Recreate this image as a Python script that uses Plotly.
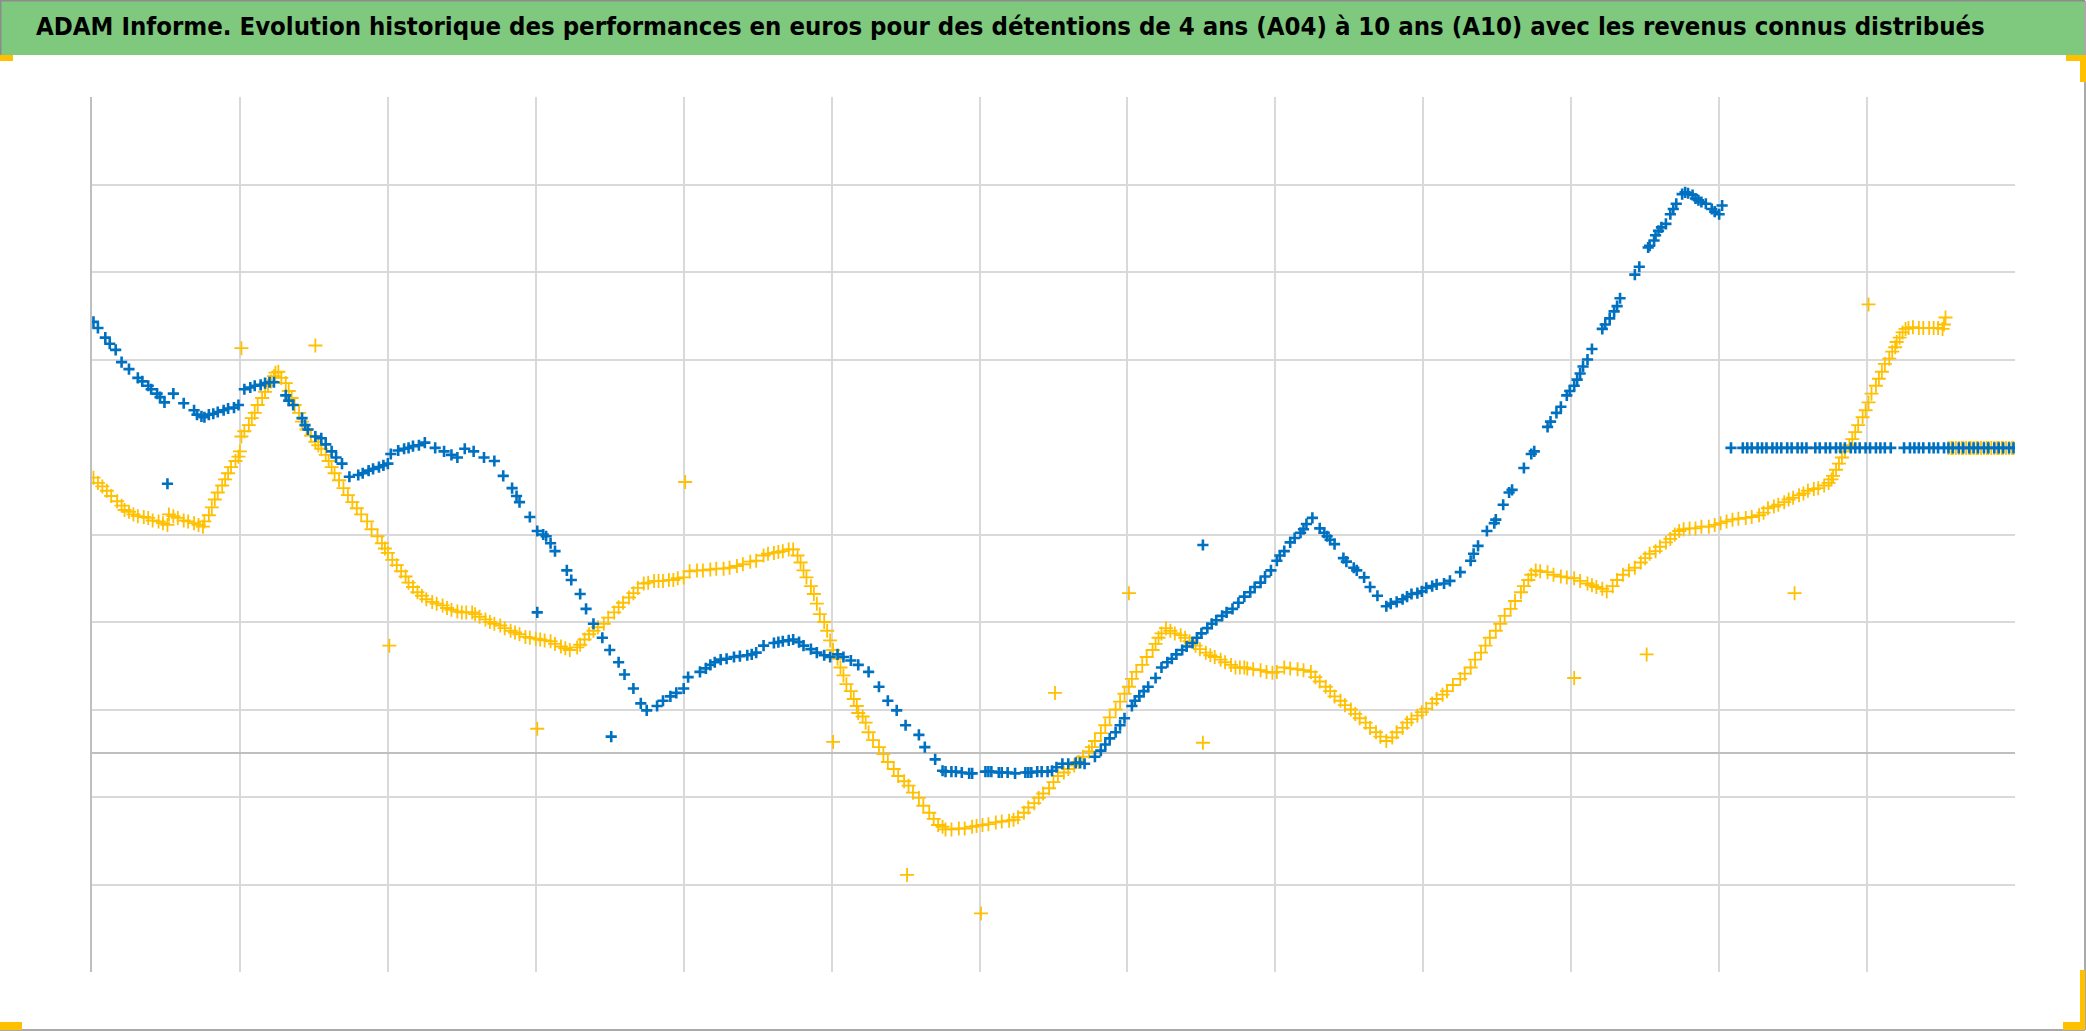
import plotly.graph_objects as go

# ---------------- data (x in years from start, y in hundreds of euros) ----------------
blue_x = [0.01, 0.09, 0.16, 0.20, 0.25, 0.31, 0.38, 0.44, 0.49, 0.55, 0.62, 0.69, 0.74, 0.79, 0.85, 0.92, 0.99,
          1.03, 1.10, 1.17, 1.23, 1.31, 1.36, 1.42, 1.46, 1.51, 1.55, 1.62, 1.69, 1.74, 1.80, 1.87, 1.94, 2.00,
          2.02, 2.07, 2.14, 2.21, 2.25, 2.32, 2.38, 2.43, 2.47, 2.52, 2.58, 2.65, 2.72, 2.78, 2.84, 2.89, 2.96,
          3.01, 3.07, 3.13, 3.21, 3.24, 3.30, 3.34, 3.39, 3.45, 3.50, 3.56, 3.60, 3.66, 3.71, 3.75, 3.82, 3.91,
          4.00, 4.03, 4.11, 4.18, 4.25, 4.34, 4.43, 4.49, 4.54, 4.61, 4.67, 4.74, 4.81, 4.90, 4.99, 5.04, 5.13,
          5.18, 5.25, 5.32, 5.38, 5.44, 5.50, 5.59, 5.63, 5.70, 5.75, 5.81, 5.88, 5.95, 6.06, 6.15, 6.24, 6.33,
          6.42, 6.49, 6.56, 6.65, 6.71, 6.78, 6.85, 6.92, 6.98, 7.03, 7.08, 7.14, 7.19, 7.23, 7.30, 7.37, 7.44,
          7.50, 7.57, 7.64, 7.71, 7.79, 7.83, 7.90, 7.97, 8.01, 8.06, 8.10, 8.17, 8.21, 8.25, 8.30, 8.35, 8.40,
          8.46, 8.53, 8.60, 8.64, 8.69, 8.75, 8.82, 8.89, 8.96, 9.02, 9.09, 9.18, 9.25, 9.32, 9.37, 9.43, 9.49,
          9.54, 9.60, 9.68, 9.75, 9.84, 9.90, 9.97, 10.02, 10.06, 10.11, 10.14, 10.21, 10.26, 10.33, 10.43,
          10.46, 10.52, 10.56, 10.59, 10.64, 10.67, 10.71, 10.75, 10.77, 10.82, 10.86, 10.91, 10.95, 11.00,
          11.02]
blue_y = [4.93, 4.75, 4.61, 4.47, 4.39, 4.29, 4.20, 4.11, 4.01, 4.11, 4.00, 3.92, 3.85, 3.87, 3.90, 3.94, 3.98,
          4.16, 4.20, 4.23, 4.24, 4.09, 3.98, 3.83, 3.70, 3.62, 3.60, 3.45, 3.31, 3.16, 3.18, 3.23, 3.27, 3.31,
          3.42, 3.46, 3.49, 3.52, 3.55, 3.49, 3.45, 3.41, 3.38, 3.48, 3.45, 3.38, 3.34, 3.17, 3.03, 2.87, 2.70,
          2.54, 2.48, 2.31, 2.09, 1.98, 1.82, 1.65, 1.48, 1.32, 1.18, 1.04, 0.90, 0.74, 0.57, 0.49, 0.54, 0.65,
          0.74, 0.87, 0.93, 1.01, 1.07, 1.10, 1.12, 1.15, 1.23, 1.26, 1.28, 1.30, 1.23, 1.15, 1.10, 1.13, 1.06,
          1.01, 0.93, 0.76, 0.60, 0.49, 0.32, 0.21, 0.07, -0.07, -0.20, -0.21, -0.22, -0.23, -0.21, -0.22, -0.23,
          -0.22, -0.21, -0.20, -0.12, -0.11, -0.12, -0.04, 0.10, 0.24, 0.40, 0.54, 0.65, 0.76, 0.86, 0.98, 1.08,
          1.18, 1.26, 1.37, 1.48, 1.57, 1.65, 1.79, 1.84, 1.95, 2.09, 2.20, 2.31, 2.41, 2.52, 2.62, 2.69, 2.57,
          2.48, 2.39, 2.23, 2.12, 2.01, 1.90, 1.80, 1.68, 1.73, 1.79, 1.83, 1.89, 1.93, 1.97, 2.07, 2.20, 2.37,
          2.54, 2.67, 2.84, 3.01, 3.26, 3.45, 3.73, 3.89, 4.09, 4.20, 4.34, 4.50, 4.62, 4.85, 4.97, 5.20, 5.47,
          5.56, 5.78, 5.86, 5.97, 6.05, 6.16, 6.28, 6.39, 6.41, 6.38, 6.32, 6.28, 6.22, 6.16, 6.26]
blue_x2 = [0.04, 0.12, 0.34, 0.40, 0.46, 0.71, 0.76, 0.82, 0.89, 0.96, 1.07, 1.14, 1.20, 1.33, 1.44, 1.58, 1.65,
           1.83, 1.90, 1.97, 2.11, 2.17, 2.87, 3.05, 3.10, 3.86, 3.95, 4.15, 4.21, 4.29, 4.38, 4.46, 4.64, 4.71,
           4.78, 4.86, 4.95, 5.08, 5.77, 5.84, 5.93, 6.04, 6.08, 6.13, 6.19, 6.31, 6.35, 6.39, 6.46, 6.52, 6.60,
           6.68, 6.82, 6.88, 6.95, 7.05, 7.11, 7.27, 7.33, 7.40, 7.47, 7.54, 7.60, 7.67, 7.75, 7.86, 7.93, 8.03,
           8.13, 8.19, 8.33, 8.37, 8.48, 8.55, 8.78, 8.86, 8.92, 8.99, 9.06, 9.14, 9.34, 9.48, 9.58, 9.73, 9.86,
           9.93, 9.99, 10.04, 10.08, 10.23, 10.29, 10.31, 10.53, 10.57, 10.61, 10.69, 10.79, 10.84, 10.88, 10.97]
blue_y2 = [4.86, 4.68, 4.25, 4.16, 4.07, 3.87, 3.84, 3.88, 3.92, 3.95, 4.18, 4.21, 4.24, 4.03, 3.75, 3.53, 3.38,
           3.20, 3.25, 3.29, 3.48, 3.51, 2.94, 2.50, 2.40, 0.60, 0.69, 0.97, 1.04, 1.08, 1.11, 1.13, 1.27, 1.29,
           1.27, 1.19, 1.12, 1.10, -0.21, -0.21, -0.23, -0.21, -0.21, -0.22, -0.22, -0.22, -0.22, -0.21, -0.21,
           -0.16, -0.12, -0.11, 0.03, 0.17, 0.32, 0.60, 0.71, 1.04, 1.13, 1.22, 1.32, 1.43, 1.52, 1.61, 1.72, 1.90,
           2.02, 2.26, 2.46, 2.56, 2.52, 2.44, 2.19, 2.09, 1.71, 1.76, 1.82, 1.85, 1.91, 1.94, 2.28, 2.63, 2.98,
           3.42, 3.79, 3.96, 4.14, 4.27, 4.42, 4.90, 5.05, 5.11, 5.80, 5.92, 6.01, 6.22, 6.40, 6.34, 6.30, 6.19]
blue_out_x = [0.51, 3.01, 3.51, 7.51]
blue_out_y = [3.08, 1.61, 0.19, 2.38]
blue_flat_x = [11.08, 11.16, 11.19, 11.22, 11.26, 11.29, 11.32, 11.36, 11.39, 11.42, 11.46, 11.49, 11.53,
               11.56, 11.59, 11.65, 11.68, 11.72, 11.75, 11.79, 11.82, 11.85, 11.89, 11.92, 11.95, 11.99,
               12.02, 12.06, 12.09, 12.12, 12.16, 12.25, 12.29, 12.32, 12.35, 12.38, 12.42, 12.45, 12.48,
               12.52, 12.55, 12.58, 12.62, 12.65, 12.69, 12.72, 12.75, 12.79, 12.82, 12.86, 12.89, 12.92,
               12.96, 12.99]
blue_flat_y = [3.49] * len(blue_flat_x)

gold_x = [0.01, 0.07, 0.13, 0.20, 0.25, 0.31, 0.38, 0.45, 0.51, 0.52, 0.58, 0.65, 0.72, 0.75, 0.79, 0.83, 0.88,
          0.92, 0.97, 1.00, 1.01, 1.06, 1.10, 1.15, 1.19, 1.23, 1.26, 1.31, 1.35, 1.40, 1.45, 1.51, 1.55, 1.60,
          1.64, 1.70, 1.76, 1.82, 1.89, 1.96, 2.00, 2.06, 2.12, 2.17, 2.23, 2.30, 2.37, 2.43, 2.50, 2.57, 2.62,
          2.69, 2.76, 2.83, 2.89, 2.96, 3.03, 3.10, 3.17, 3.23, 3.28, 3.33, 3.39, 3.46, 3.53, 3.59, 3.66, 3.73,
          3.80, 3.86, 3.93, 4.00, 4.04, 4.13, 4.22, 4.31, 4.40, 4.49, 4.54, 4.61, 4.67, 4.74, 4.79, 4.83, 4.88,
          4.92, 4.97, 5.01, 5.06, 5.10, 5.15, 5.18, 5.21, 5.25, 5.32, 5.38, 5.45, 5.52, 5.59, 5.66, 5.72, 5.77,
          5.86, 5.95, 6.02, 6.11, 6.20, 6.26, 6.33, 6.40, 6.47, 6.53, 6.60, 6.67, 6.74, 6.78, 6.85, 6.92, 6.98,
          7.03, 7.10, 7.17, 7.21, 7.26, 7.32, 7.39, 7.46, 7.53, 7.59, 7.66, 7.73, 7.79, 7.85, 7.94, 8.01, 8.06,
          8.15, 8.24, 8.30, 8.37, 8.44, 8.51, 8.57, 8.64, 8.71, 8.75, 8.82, 8.89, 8.96, 9.02, 9.09, 9.16, 9.25,
          9.32, 9.39, 9.45, 9.52, 9.59, 9.66, 9.71, 9.76, 9.84, 9.93, 10.02, 10.11, 10.17, 10.24, 10.31, 10.39,
          10.43, 10.50, 10.57, 10.64, 10.70, 10.76, 10.84, 10.93, 11.01, 11.09, 11.18, 11.27, 11.33, 11.40,
          11.47, 11.54, 11.60, 11.67, 11.74, 11.77, 11.81, 11.85, 11.90, 11.94, 11.99, 12.03, 12.08, 12.12,
          12.17, 12.20, 12.24, 12.28, 12.35, 12.42, 12.48, 12.52, 12.53]
gold_y = [3.15, 3.05, 2.94, 2.83, 2.76, 2.71, 2.69, 2.65, 2.61, 2.73, 2.69, 2.65, 2.61, 2.59, 2.72, 2.90, 3.06,
          3.20, 3.34, 3.45, 3.62, 3.75, 3.89, 4.06, 4.20, 4.31, 4.36, 4.23, 4.06, 3.89, 3.70, 3.56, 3.48, 3.34,
          3.20, 3.03, 2.87, 2.73, 2.56, 2.40, 2.29, 2.15, 2.02, 1.90, 1.80, 1.73, 1.69, 1.64, 1.61, 1.61, 1.56,
          1.50, 1.46, 1.40, 1.36, 1.32, 1.30, 1.28, 1.22, 1.18, 1.21, 1.30, 1.40, 1.48, 1.61, 1.72, 1.83, 1.94,
          1.97, 1.97, 1.98, 2.01, 2.08, 2.09, 2.11, 2.12, 2.16, 2.20, 2.26, 2.29, 2.31, 2.33, 2.18, 2.01, 1.82,
          1.59, 1.40, 1.18, 0.98, 0.79, 0.62, 0.46, 0.42, 0.24, 0.07, -0.10, -0.26, -0.37, -0.51, -0.68, -0.82,
          -0.87, -0.86, -0.84, -0.82, -0.79, -0.77, -0.73, -0.62, -0.51, -0.40, -0.26, -0.18, -0.10, 0.02, 0.14,
          0.32, 0.50, 0.68, 0.85, 1.01, 1.18, 1.32, 1.43, 1.37, 1.32, 1.23, 1.15, 1.10, 1.04, 0.98, 0.98, 0.96,
          0.93, 0.93, 0.98, 0.96, 0.93, 0.82, 0.71, 0.60, 0.50, 0.40, 0.29, 0.19, 0.14, 0.24, 0.35, 0.43, 0.51,
          0.62, 0.71, 0.85, 0.98, 1.15, 1.32, 1.48, 1.65, 1.84, 1.98, 2.09, 2.07, 2.02, 2.00, 1.94, 1.90, 1.85,
          1.98, 2.09, 2.12, 2.23, 2.31, 2.41, 2.50, 2.56, 2.57, 2.59, 2.63, 2.67, 2.69, 2.72, 2.80, 2.84, 2.90,
          2.95, 3.00, 3.03, 3.09, 3.17, 3.31, 3.45, 3.59, 3.75, 3.92, 4.11, 4.28, 4.45, 4.59, 4.70, 4.81, 4.86,
          4.86, 4.86, 4.86, 4.90, 4.98]
gold_x2 = [0.04, 0.10, 0.17, 0.22, 0.28, 0.35, 0.41, 0.48, 0.55, 0.62, 0.69, 0.76, 0.81, 0.85, 0.90, 0.94, 0.99,
           1.03, 1.08, 1.12, 1.17, 1.21, 1.24, 1.28, 1.33, 1.37, 1.42, 1.48, 1.53, 1.58, 1.62, 1.67, 1.73, 1.79,
           1.86, 1.93, 1.98, 2.03, 2.09, 2.14, 2.20, 2.26, 2.33, 2.40, 2.47, 2.53, 2.59, 2.66, 2.72, 2.79, 2.86,
           2.93, 3.00, 3.06, 3.13, 3.20, 3.30, 3.36, 3.42, 3.49, 3.56, 3.63, 3.69, 3.76, 3.83, 3.90, 3.96, 4.09,
           4.18, 4.27, 4.36, 4.45, 4.57, 4.64, 4.71, 4.77, 4.81, 4.86, 4.90, 4.95, 4.99, 5.04, 5.08, 5.13, 5.17,
           5.23, 5.28, 5.35, 5.42, 5.49, 5.55, 5.62, 5.69, 5.75, 5.81, 5.90, 5.98, 6.06, 6.15, 6.23, 6.30, 6.37,
           6.43, 6.50, 6.57, 6.64, 6.70, 6.76, 6.82, 6.88, 6.95, 7.01, 7.06, 7.13, 7.19, 7.23, 7.29, 7.36, 7.42,
           7.49, 7.56, 7.63, 7.70, 7.76, 7.81, 7.90, 7.98, 8.10, 8.19, 8.27, 8.34, 8.40, 8.47, 8.54, 8.61, 8.68,
           8.79, 8.86, 8.92, 8.99, 9.06, 9.13, 9.20, 9.28, 9.35, 9.42, 9.49, 9.55, 9.62, 9.68, 9.73, 9.79, 9.88,
           9.97, 10.06, 10.14, 10.21, 10.28, 10.35, 10.47, 10.53, 10.60, 10.67, 10.73, 10.80, 10.88, 10.97, 11.05,
           11.13, 11.22, 11.30, 11.37, 11.44, 11.50, 11.57, 11.64, 11.71, 11.76, 11.79, 11.83, 11.88, 11.92,
           11.97, 12.01, 12.06, 12.10, 12.15, 12.19, 12.22, 12.26, 12.31, 12.38, 12.45, 12.51]
gold_y2 = [3.09, 3.00, 2.88, 2.78, 2.73, 2.70, 2.66, 2.63, 2.71, 2.66, 2.63, 2.65, 2.81, 2.98, 3.13, 3.27, 3.39,
           3.68, 3.83, 3.98, 4.13, 4.25, 4.35, 4.29, 4.14, 3.98, 3.79, 3.63, 3.52, 3.41, 3.27, 3.12, 2.95, 2.80,
           2.65, 2.48, 2.34, 2.21, 2.08, 1.95, 1.84, 1.76, 1.71, 1.66, 1.62, 1.61, 1.59, 1.53, 1.48, 1.43, 1.38,
           1.33, 1.31, 1.29, 1.25, 1.20, 1.24, 1.36, 1.44, 1.55, 1.67, 1.78, 1.89, 1.95, 1.97, 1.98, 2.00, 2.09,
           2.10, 2.11, 2.14, 2.19, 2.28, 2.30, 2.33, 2.26, 2.09, 1.91, 1.71, 1.50, 1.29, 1.08, 0.89, 0.71, 0.54,
           0.35, 0.15, -0.01, -0.18, -0.32, -0.45, -0.60, -0.75, -0.84, -0.87, -0.86, -0.83, -0.81, -0.78, -0.76,
           -0.68, -0.57, -0.46, -0.33, -0.22, -0.14, -0.04, 0.07, 0.23, 0.41, 0.59, 0.76, 0.93, 1.10, 1.25, 1.37,
           1.40, 1.35, 1.28, 1.19, 1.12, 1.07, 1.01, 0.98, 0.97, 0.95, 0.92, 0.97, 0.95, 0.87, 0.76, 0.65, 0.55,
           0.45, 0.35, 0.24, 0.18, 0.29, 0.39, 0.47, 0.57, 0.67, 0.78, 0.91, 1.07, 1.23, 1.40, 1.57, 1.74, 1.91,
           2.04, 2.08, 2.04, 2.01, 1.97, 1.92, 1.88, 1.91, 2.04, 2.18, 2.28, 2.36, 2.45, 2.54, 2.57, 2.59, 2.61,
           2.65, 2.68, 2.70, 2.75, 2.82, 2.87, 2.92, 2.97, 3.02, 3.06, 3.13, 3.24, 3.38, 3.52, 3.67, 3.84, 4.01,
           4.20, 4.36, 4.51, 4.64, 4.75, 4.85, 4.87, 4.86, 4.86, 4.85]
gold_out_x = [1.01, 1.51, 2.01, 4.01, 3.01, 5.01, 5.51, 6.01, 6.51, 7.01, 7.51, 10.02, 10.51, 11.51, 12.01]
gold_out_y = [4.63, 4.66, 1.23, 3.10, 0.28, 0.13, -1.39, -1.83, 0.69, 1.83, 0.12, 0.86, 1.13, 1.83, 5.13]
gold_flat_x = [12.55, 12.57, 12.58, 12.60, 12.62, 12.64, 12.65, 12.67, 12.69, 12.70, 12.72, 12.74, 12.75, 12.77,
               12.79, 12.81, 12.82, 12.84, 12.86, 12.88, 12.89, 12.91, 12.92, 12.94, 12.96, 12.98, 12.99]
gold_flat_y = [3.49] * len(gold_flat_x)

x_grid = list(range(0, 14))
y_grid = [-2.5, -1.5, -0.5, 0.5, 1.5, 2.5, 4.5, 5.5, 6.5, 7.5]

TITLE = ("ADAM Informe. Evolution historique des performances en euros pour des détentions "
         "de 4 ans (A04) à 10 ans (A10) avec les revenus connus distribués")

BLUE = "#0070C0"
GOLD = "#FFC000"

# ---------------- figure ----------------
W, H = 2086, 1031
L, R, T, B = 92, 2015, 97, 972


def pxx(p):
    return (p - L) / (R - L)


def pyy(p):
    return (B - p) / (B - T)


fig = go.Figure()

gold_all_x = gold_x + gold_x2 + gold_out_x + gold_flat_x
gold_all_y = gold_y + gold_y2 + gold_out_y + gold_flat_y
fig.add_trace(go.Scatter(
    x=gold_all_x, y=gold_all_y, mode="markers", name="A10",
    marker=dict(symbol="cross-thin", size=10, color=GOLD, line=dict(color=GOLD, width=1.8)),
))
blue_all_x = blue_x + blue_x2 + blue_out_x + blue_flat_x
blue_all_y = blue_y + blue_y2 + blue_out_y + blue_flat_y
fig.add_trace(go.Scatter(
    x=blue_all_x, y=blue_all_y, mode="markers", name="A04",
    marker=dict(symbol="cross-thin", size=8, color=BLUE, line=dict(color=BLUE, width=2.6)),
))

shapes = []
# title band
shapes.append(dict(type="rect", xref="paper", yref="paper", x0=pxx(0), x1=pxx(2084), y0=pyy(55), y1=pyy(0),
                   fillcolor="#7EC97E", line=dict(width=0), layer="below"))
# outer border (top, right, bottom, left edge of the title band)
BORDER = dict(color="#8C8C8C", width=1.5)
for (x0, y0, x1, y1) in [(0, 0.7, 2085, 0.7), (2085, 0.7, 2085, 1030), (0, 1030, 2085, 1030), (0.7, 0.7, 0.7, 55)]:
    shapes.append(dict(type="line", xref="paper", yref="paper", x0=pxx(x0), x1=pxx(x1), y0=pyy(y0), y1=pyy(y1),
                       line=BORDER))
# corner handles
for (x0, y0, x1, y1) in [(0, 55, 13, 61), (2066, 55, 2086, 61), (2080, 55, 2086, 82),
                         (0, 1022, 22, 1030), (2080, 970, 2085, 1030), (2063, 1022, 2085, 1030)]:
    shapes.append(dict(type="rect", xref="paper", yref="paper", x0=pxx(x0), x1=pxx(x1), y0=pyy(y1), y1=pyy(y0),
                       fillcolor=GOLD, line=dict(width=0)))

fig.update_layout(
    width=W, height=H,
    margin=dict(l=L, r=W - R, t=T, b=H - B, pad=0),
    paper_bgcolor="white", plot_bgcolor="white",
    showlegend=False,
    shapes=shapes,
    annotations=[dict(text="<b>" + TITLE + "</b>", xref="paper", yref="paper",
                      x=pxx(1010), y=pyy(26), xanchor="center", yanchor="middle", showarrow=False,
                      font=dict(family="DejaVu Sans Condensed, Liberation Sans Narrow, sans-serif",
                                size=25.5, color="black"))],
    xaxis=dict(range=[0, 13], tickmode="array", tickvals=x_grid, showticklabels=False,
               showgrid=True, gridcolor="#D9D9D9", gridwidth=1.5, zeroline=False, showline=False,
               ticks=""),
    yaxis=dict(range=[-2.5, 7.5], tickmode="array", tickvals=y_grid, showticklabels=False,
               showgrid=True, gridcolor="#D9D9D9", gridwidth=1.5,
               zeroline=True, zerolinecolor="#BFBFBF", zerolinewidth=2,
               showline=True, linecolor="#BFBFBF", linewidth=2, ticks=""),
)

fig.write_html("out.html", config={"displayModeBar": False},
               post_script="document.body.style.margin='0px';document.body.style.overflow='hidden';")
